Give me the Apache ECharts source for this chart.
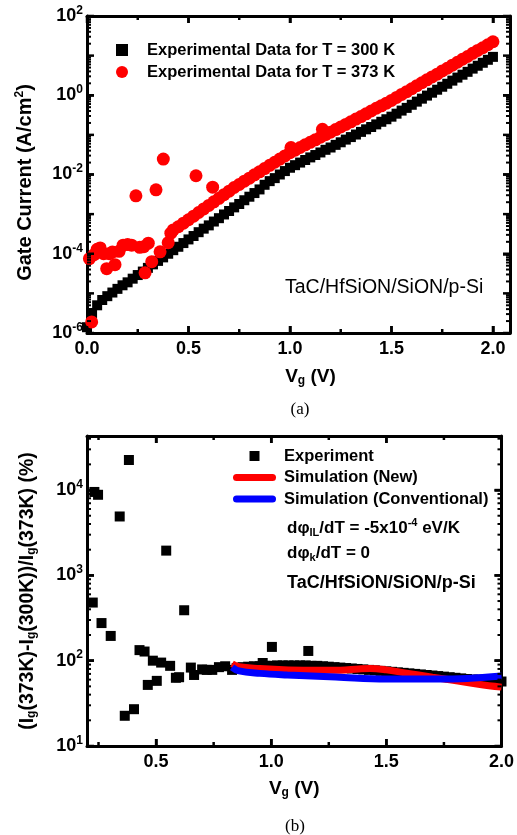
<!DOCTYPE html>
<html><head><meta charset="utf-8">
<script src="https://cdn.jsdelivr.net/npm/echarts@6/dist/echarts.min.js"></script>
<style>html,body{margin:0;padding:0;background:#fff}#c{width:517px;height:835px}</style>
</head><body><div id="c"></div>
<script>
// ---------- (a) Gate current ----------
const vg300 = [0,0.025,0.05,0.075,0.1,0.125,0.15,0.175,0.2,0.225,0.25,0.275,0.3,0.325,0.35,0.375,0.4,0.425,0.45,0.475,0.5,0.525,0.55,0.575,0.6,0.625,0.65,0.675,0.7,0.725,0.75,0.775,0.8,0.825,0.85,0.875,0.9,0.925,0.95,0.975,1,1.025,1.05,1.075,1.1,1.125,1.15,1.175,1.2,1.225,1.25,1.275,1.3,1.325,1.35,1.375,1.4,1.425,1.45,1.475,1.5,1.525,1.55,1.575,1.6,1.625,1.65,1.675,1.7,1.725,1.75,1.775,1.8,1.825,1.85,1.875,1.9,1.925,1.95,1.975,2];
const ig300 = [1.4e-6,3.2e-6,5.0e-6,6.8e-6,8.5e-6,1.05e-5,1.3e-5,1.6e-5,1.9e-5,2.35e-5,2.9e-5,3.55e-5,4.4e-5,5.4e-5,6.6e-5,8.1e-5,1.0e-4,1.23e-4,1.5e-4,1.86e-4,2.3e-4,2.8e-4,3.5e-4,4.3e-4,5.2e-4,6.5e-4,7.9e-4,9.8e-4,1.2e-3,1.48e-3,1.8e-3,2.24e-3,2.75e-3,3.4e-3,4.2e-3,5.5e-3,6.8e-3,8.1e-3,1.0e-2,1.22e-2,1.48e-2,1.72e-2,2.0e-2,2.32e-2,2.7e-2,3.1e-2,3.6e-2,4.2e-2,4.8e-2,5.6e-2,6.5e-2,7.6e-2,8.8e-2,0.102,0.119,0.138,0.158,0.184,0.214,0.248,0.288,0.343,0.41,0.48,0.575,0.69,0.82,0.98,1.16,1.38,1.64,1.95,2.34,2.79,3.3,3.9,4.7,5.55,6.6,7.85,9.3];
const vg373 = [0.012,0.023,0.035,0.05,0.065,0.082,0.097,0.11,0.125,0.138,0.158,0.178,0.2,0.22,0.241,0.26,0.28,0.286,0.302,0.319,0.34,0.36,0.376,0.4,0.413,
  0.425,0.45,0.475,0.5,0.525,0.537,0.55,0.575,0.6,0.619,0.625,0.65,0.675,0.7,0.725,0.75,0.775,0.8,0.825,0.85,0.875,0.9,0.925,0.95,0.975,1,1.005,1.025,1.05,1.075,1.1,1.125,1.15,1.16,1.175,1.2,1.225,1.25,1.275,1.3,1.325,1.35,1.375,1.4,1.425,1.45,1.475,1.5,1.525,1.55,1.575,1.6,1.625,1.65,1.675,1.7,1.725,1.75,1.775,1.8,1.825,1.85,1.875,1.9,1.925,1.95,1.975,2];
const ig373 = [7.5e-5,1.9e-6,9.5e-5,1.3e-4,1.4e-4,1.0e-4,4.2e-5,1.0e-4,1.1e-4,5.3e-5,1.15e-4,1.65e-4,1.7e-4,1.65e-4,2.9e-3,1.45e-4,1.5e-4,3.3e-5,1.85e-4,6.3e-5,4.1e-3,1.12e-4,2.45e-2,1.9e-4,3.3e-4,
  4.0e-4,4.8e-4,5.9e-4,7.2e-4,8.9e-4,9.3e-3,1.1e-3,1.35e-3,1.66e-3,4.8e-3,2.04e-3,2.5e-3,3.1e-3,3.8e-3,4.7e-3,5.6e-3,6.8e-3,8.1e-3,9.8e-3,1.17e-2,1.41e-2,1.7e-2,2.04e-2,2.45e-2,2.95e-2,3.55e-2,4.8e-2,4.1e-2,4.8e-2,5.6e-2,6.5e-2,7.5e-2,8.7e-2,0.138,0.101,0.117,0.136,0.158,0.184,0.214,0.25,0.29,0.34,0.40,0.47,0.54,0.63,0.74,0.88,1.05,1.23,1.46,1.74,2.07,2.45,2.9,3.4,4.1,4.8,5.75,6.8,8.1,9.5,11.4,13.5,15.8,18.8,22.4];

// ---------- (b) relative difference ----------
const expV = [0.225,0.232,0.248,0.263,0.303,0.342,0.364,0.382,0.404,0.428,0.45,0.464,0.486,0.503,0.522,0.544,0.561,0.586,0.6,0.622,0.651,0.665,0.7,0.72,0.744,0.773,0.8,0.83,
  0.85,0.875,0.9,0.925,0.95,0.963,0.975,1,1.003,1.025,1.05,1.075,1.1,1.125,1.15,1.161,1.175,1.2,1.225,1.25,1.275,1.3,1.325,1.35,1.375,1.4,1.425,1.45,1.475,1.5,1.525,1.55,1.575,1.6,1.625,1.65,1.675,1.7,1.725,1.75,1.775,1.8,1.825,1.85,1.875,1.9,1.925,1.95,1.975,2];
const expPct = [480,9500,8800,276,195,4900,22.6,22500,27,133,128,52,100,58,95,1950,87,63,64,390,83,68,79,78,78,84,86,78,
  82,84,85,86,86,94,87,87,145,88,88,88,88,88,88,130,87,87,86,85,84,83,82,81,80,79,78,77,76,75,74,73,72,71,70,69,68,67,66,65,64,63,62,61,60,60,59,58,57,57];
const newV = [0.83,0.86,0.95,1.075,1.2,1.3,1.38,1.43,1.5,1.58,1.7,1.79,1.9,2.0];
const newPct = [92,85,81,78,77,77.5,80,81,78,72,64,59,53,49];
const convV = [0.83,0.86,0.95,1.07,1.28,1.5,1.72,1.85,2.0];
const convPct = [84,76,71,68,64.5,61,61,62,66];

// ---------- tick labels ----------
const topXTicks = [0, 0.5, 1.0, 1.5, 2.0];
const topYTicks = [1e-6, 1e-4, 1e-2, 1, 1e2];
const botXTicks = [0.5, 1.0, 1.5, 2.0];
const botYTicks = [10, 100, 1000, 10000];
const xMinorTicks = [0.25, 0.75, 1.25, 1.75];

const F = '"Liberation Sans", Arial, Helvetica, sans-serif';
const SERIF = '"Liberation Serif", "Times New Roman", serif';
const N300 = 'Experimental Data for T = 300 K';
const N373 = 'Experimental Data for T = 373 K';

const richNum = {
  b: {fontFamily: F, fontSize: 18, fontWeight: 'bold', color: '#000'},
  s: {fontFamily: F, fontSize: 12, fontWeight: 'bold', color: '#000', padding: [0, 0, 11, 0]}
};
const richName = {
  sub: {fontFamily: F, fontSize: 12, fontWeight: 'bold', color: '#000', padding: [9, 0, 0, 0]},
  sup: {fontFamily: F, fontSize: 12, fontWeight: 'bold', color: '#000', padding: [0, 0, 10, 0]}
};
function nameStyle(size, pad) {
  return {fontFamily: F, fontSize: size, fontWeight: 'bold', color: '#000', rich: richName, padding: pad || 0};
}
const tickMain = {show: true, inside: true, length: 7, lineStyle: {color: '#000', width: 2.5}};
function xAx(grid, pos, min, max, labelVals, labels, name, gap, pad) {
  return {type: 'value', gridIndex: grid, position: pos, min, max,
    axisLine: {show: true, onZero: false, lineStyle: {color: '#000', width: 3}},
    axisTick: Object.assign({customValues: labelVals}, tickMain),
    axisLabel: {show: labels, customValues: labelVals, margin: 7, formatter: v => v.toFixed(1),
      fontFamily: F, fontSize: 18, fontWeight: 'bold', color: '#000'},
    splitLine: {show: false},
    name: name || '', nameLocation: 'middle', nameGap: gap || 0, nameTextStyle: nameStyle(19, pad)};
}
function yAx(grid, pos, min, max, labelVals, labels, name, gap, size, pad) {
  return {type: 'log', logBase: 10, gridIndex: grid, position: pos, min, max,
    axisLine: {show: true, onZero: false, lineStyle: {color: '#000', width: 3}},
    axisTick: Object.assign({customValues: labelVals}, tickMain),
    axisLabel: {show: labels, customValues: labelVals, margin: 4,
      formatter: v => '{b|10}{s|' + Math.round(Math.log10(v)) + '}', rich: richNum},
    splitLine: {show: false},
    name: name || '', nameLocation: 'middle', nameGap: gap || 0, nameTextStyle: nameStyle(size || 19, pad)};
}

const sq = 'path://M0,0H10V10H0Z';
const bar = 'path://M3.5,0H39.5A3.5,3.5,0,0,1,39.5,7H3.5A3.5,3.5,0,0,1,3.5,0Z';
const legendText = {fontFamily: F, fontSize: 16.5, fontWeight: 'bold', color: '#000', lineHeight: 20};

const texts = [
  {type: 'text', x: 285, y: 288, style: {text: 'TaC/HfSiON/SiON/p-Si', fontFamily: F, fontSize: 19.5, fontWeight: 'normal', fill: '#000', verticalAlign: 'middle'}},
  {type: 'text', x: 287, y: 528, style: {text: 'dφ{sub|IL}/dT = -5x10{sup|-4} eV/K', fontFamily: F, fontSize: 17, fontWeight: 'bold', fill: '#000', verticalAlign: 'middle',
    rich: {sub: {fontFamily: F, fontSize: 11, fontWeight: 'bold', fill: '#000', padding: [9, 0, 0, 0]},
           sup: {fontFamily: F, fontSize: 11, fontWeight: 'bold', fill: '#000', padding: [0, 0, 10, 0]}}}},
  {type: 'text', x: 287, y: 553, style: {text: 'dφ{sub|k}/dT = 0', fontFamily: F, fontSize: 17, fontWeight: 'bold', fill: '#000', verticalAlign: 'middle',
    rich: {sub: {fontFamily: F, fontSize: 11, fontWeight: 'bold', fill: '#000', padding: [9, 0, 0, 0]}}}},
  {type: 'text', x: 287, y: 583, style: {text: 'TaC/HfSiON/SiON/p-Si', fontFamily: F, fontSize: 18, fontWeight: 'bold', fill: '#000', verticalAlign: 'middle'}},
  {type: 'text', x: 300, y: 410, style: {text: '(a)', fontFamily: SERIF, fontSize: 17, fill: '#000', align: 'center', verticalAlign: 'middle'}},
  {type: 'text', x: 295, y: 827, style: {text: '(b)', fontFamily: SERIF, fontSize: 17, fill: '#000', align: 'center', verticalAlign: 'middle'}}
];

const option = {
  animation: false,
  backgroundColor: '#fff',
  grid: [
    {left: 87, top: 16, width: 423, height: 317},
    {left: 87, top: 436, width: 418, height: 310}
  ],
  xAxis: [
    xAx(0, 'bottom', 0, 2.084, topXTicks, true, 'V{sub|g} (V)', 33, [0, 0, 0, 24]),
    xAx(0, 'top', 0, 2.084, topXTicks, false),
    xAx(1, 'bottom', 0.2, 2.0, botXTicks, true, 'V{sub|g} (V)', 32),
    xAx(1, 'top', 0.2, 2.0, botXTicks, false)
  ],
  yAxis: [
    yAx(0, 'left', 1e-6, 100, topYTicks, true, 'Gate Current (A/cm{sup|2})', 51, 20, [0, 16, 0, 0]),
    yAx(0, 'right', 1e-6, 100, topYTicks, false),
    yAx(1, 'left', 10, 43000, botYTicks, true, '(I{sub|g}(373K)-I{sub|g}(300K))/I{sub|g}(373K) (%)', 49, 19.5),
    yAx(1, 'right', 10, 43000, botYTicks, false)
  ],
  legend: [
    {selectedMode: false, orient: 'vertical', left: 116, top: 40, padding: 0, itemWidth: 12, itemHeight: 12, itemGap: 2,
      data: [{name: N300, icon: sq}, {name: N373, icon: 'circle'}],
      textStyle: Object.assign({}, legendText, {padding: [0, 0, 0, 14]})},
    {selectedMode: false, orient: 'vertical', left: 233, top: 446, padding: 0, itemWidth: 43, itemHeight: 10, itemGap: 1.5,
      data: [{name: 'Experiment', icon: sq}, {name: 'Simulation (New)', icon: bar}, {name: 'Simulation (Conventional)', icon: bar}],
      textStyle: Object.assign({}, legendText, {padding: [0, 0, 0, 3]})}
  ],
  series: [
    {name: N300, type: 'scatter', xAxisIndex: 0, yAxisIndex: 0, symbol: 'rect', symbolSize: 10,
      itemStyle: {color: '#000', opacity: 1}, data: vg300.map((v, i) => [v, ig300[i]])},
    {name: N373, type: 'scatter', xAxisIndex: 0, yAxisIndex: 0, symbol: 'circle', symbolSize: 13,
      itemStyle: {color: '#ff0000', opacity: 1}, data: vg373.map((v, i) => [v, ig373[i]])},
    {name: 'Experiment', type: 'scatter', xAxisIndex: 2, yAxisIndex: 2, symbol: 'rect', symbolSize: 10,
      itemStyle: {color: '#000', opacity: 1}, data: expV.map((v, i) => [v, expPct[i]])},
    {name: 'Simulation (New)', type: 'line', xAxisIndex: 2, yAxisIndex: 2, showSymbol: false, smooth: 0.4,
      color: '#ff0000', lineStyle: {color: '#ff0000', width: 7}, itemStyle: {color: '#ff0000'},
      data: newV.map((v, i) => [v, newPct[i]])},
    {name: 'Simulation (Conventional)', type: 'line', xAxisIndex: 2, yAxisIndex: 2, showSymbol: false, smooth: 0.4,
      color: '#0000ff', lineStyle: {color: '#0000ff', width: 7}, itemStyle: {color: '#0000ff'},
      data: convV.map((v, i) => [v, convPct[i]])}
  ],
  graphic: texts
};
const chart = echarts.init(document.getElementById('c'), null, {renderer: 'canvas'});
chart.setOption(option);

// tick marks on all four sides, positioned through the axes' own scales
const ticks = [];
function seg(x1, y1, x2, y2, w) {
  ticks.push({type: 'line', silent: true, z: 100, shape: {x1, y1, x2, y2}, style: {stroke: '#000', lineWidth: w}});
}
function xTicks(xi, yi, yMin, yMax, vals, len, w) {
  const yb = chart.convertToPixel({yAxisIndex: yi}, yMin), yt = chart.convertToPixel({yAxisIndex: yi}, yMax);
  vals.forEach(v => { const x = chart.convertToPixel({xAxisIndex: xi}, v); seg(x, yb, x, yb - len, w); seg(x, yt, x, yt + len, w); });
}
function yTicks(xi, yi, xMin, xMax, e0, e1, yMin, yMax) {
  const xl = chart.convertToPixel({xAxisIndex: xi}, xMin), xr = chart.convertToPixel({xAxisIndex: xi}, xMax);
  for (let e = e0; e <= e1; e++) for (let m = 1; m <= 9; m++) {
    const v = m * Math.pow(10, e);
    if (v < yMin * 0.999 || v > yMax * 1.001) continue;
    const y = chart.convertToPixel({yAxisIndex: yi}, v);
    const len = m === 1 ? 7 : 4, w = m === 1 ? 2.5 : 2;
    seg(xl, y, xl + len, y, w); seg(xr, y, xr - len, y, w);
  }
}
xTicks(0, 0, 1e-6, 100, topXTicks, 7, 2.5);
xTicks(0, 0, 1e-6, 100, xMinorTicks, 4, 2.5);
xTicks(2, 2, 10, 43000, botXTicks, 7, 2.5);
xTicks(2, 2, 10, 43000, xMinorTicks, 4, 2.5);
yTicks(0, 0, 0, 2.084, -6, 2, 1e-6, 100);
yTicks(2, 2, 0.2, 2.0, 1, 4, 10, 43000);
chart.setOption({graphic: texts.concat(ticks)});
</script>
</body></html>
